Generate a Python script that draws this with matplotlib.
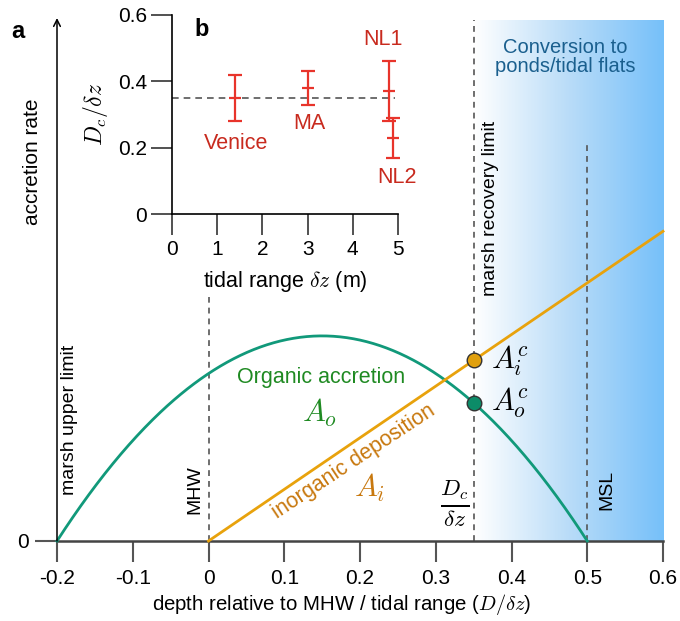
import numpy as np
import matplotlib
matplotlib.use("Agg")
import matplotlib.pyplot as plt
from matplotlib.colors import LinearSegmentedColormap

plt.rcParams['font.family'] = ['Liberation Sans', 'DejaVu Sans']
plt.rcParams['mathtext.fontset'] = 'cm'

# ---------------- data ----------------
# Panel a (schematic model): organic accretion parabola & inorganic deposition line
organic_zeros = [-0.2, 0.5]          # depth where organic accretion vanishes
organic_peak = 1.0                   # peak organic accretion (arbitrary units)
inorganic_start = [0.0, 0.0]         # (depth, rate)
inorganic_end = [0.6, 1.51]          # (depth, rate)
critical_depth = 0.35                # D_c / delta z
msl_depth = 0.5
mhw_depth = 0.0
xticks_a = [-0.2, -0.1, 0, 0.1, 0.2, 0.3, 0.4, 0.5, 0.6]
xticklabels_a = ['-0.2', '-0.1', '0', '0.1', '0.2', '0.3', '0.4', '0.5', '0.6']

# Panel b: critical depth vs tidal range
sites = ['Venice', 'MA', 'NL1', 'NL2']
tidal_range = [1.4, 3.0, 4.8, 4.9]
dc_value = [0.35, 0.38, 0.37, 0.23]
dc_low = [0.28, 0.33, 0.28, 0.17]
dc_high = [0.42, 0.43, 0.46, 0.29]
dc_mean = 0.35

# ---------------- figure ----------------
W, H = 680, 621
fig = plt.figure(figsize=(W / 100, H / 100), dpi=100)

def fx(px):
    return px / W

def fy(py):
    return 1 - py / H

ax = fig.add_axes([fx(57), fy(541), fx(663) - fx(57), fy(18) - fy(541)])
ymax = 2.55
ax.set_xlim(-0.2, 0.6)
ax.set_ylim(0, ymax)

# gradient region
cmap = LinearSegmentedColormap.from_list('bl', ['#ffffff', '#b9dcf8', '#76c0fa'])
grad = np.linspace(0, 1, 256).reshape(1, -1)
ax.imshow(grad, extent=[critical_depth, 0.6, 0, 2.54], aspect='auto',
          cmap=cmap, zorder=0, interpolation='bilinear')

# curves
x = np.linspace(organic_zeros[0], organic_zeros[1], 400)
mid = 0.5 * (organic_zeros[0] + organic_zeros[1])
half = 0.5 * (organic_zeros[1] - organic_zeros[0])
Ao = organic_peak * (1 - ((x - mid) / half) ** 2)
green = '#11997a'
orange = '#e8a20c'
ax.plot(x, Ao, color=green, lw=2, zorder=3, clip_on=False)
ax.plot([inorganic_start[0], inorganic_end[0]], [inorganic_start[1], inorganic_end[1]],
        color=orange, lw=2, zorder=3, clip_on=False)

slope = (inorganic_end[1] - inorganic_start[1]) / (inorganic_end[0] - inorganic_start[0])
Ai_c = slope * critical_depth
Ao_c = organic_peak * (1 - ((critical_depth - mid) / half) ** 2)
ax.scatter([critical_depth], [Ai_c], s=110, color='#e0a00e', edgecolor='#333333', lw=1, zorder=5)
ax.scatter([critical_depth], [Ao_c], s=110, color='#0c8c68', edgecolor='#333333', lw=1, zorder=5)

# dashed vertical lines
dash_kw = dict(color='#555555', lw=1.2, ls=(0, (3.5, 3)), zorder=2)
ax.plot([mhw_depth, mhw_depth], [0, 1.19], **dash_kw)
ax.plot([critical_depth, critical_depth], [0, 2.54], **dash_kw)
ax.plot([msl_depth, msl_depth], [0, 1.93], **dash_kw)

# axes styling
for s in ['top', 'right', 'left']:
    ax.spines[s].set_visible(False)
ax.spines['bottom'].set_color('#444444')
ax.spines['bottom'].set_linewidth(1.8)
ax.set_xticks(xticks_a)
ax.set_xticklabels(xticklabels_a)
ax.set_yticks([0])
ax.set_yticklabels(['0'])
ax.tick_params(axis='x', direction='out', length=15, width=1.5, color='#555555',
               labelsize=15, pad=5)
ax.tick_params(axis='y', direction='out', length=16, width=1.5, color='#555555',
               labelsize=15, pad=4)
ax.annotate('', xy=(-0.2, ymax), xytext=(-0.2, 0), xycoords='data',
            arrowprops=dict(arrowstyle='->', lw=1.1, color='black',
                            shrinkA=0, shrinkB=0, mutation_scale=12),
            annotation_clip=False, zorder=6)
ax.set_xlabel(r'depth relative to MHW / tidal range ($D/\delta z$)', fontsize=14.7, labelpad=7)
ax.xaxis.set_label_coords((342 - 57) / 606, -0.098)
fig.text(fx(32), fy(162), 'accretion rate', rotation=90, ha='center', va='center', fontsize=15)

# annotations panel a
ax.text(-0.183, 0.59, 'marsh upper limit', rotation=90, ha='center', va='center', fontsize=14)
ax.text(-0.018, 0.25, 'MHW', rotation=90, ha='center', va='center', fontsize=14)
ax.text(0.372, 1.62, 'marsh recovery limit', rotation=90, ha='center', va='center', fontsize=14)
ax.text(0.526, 0.25, 'MSL', rotation=90, ha='center', va='center', fontsize=14)
ax.text(0.1485, 0.795, 'Organic accretion', color='#1f8a22', ha='center', va='center', fontsize=15.5)
ax.text(0.147, 0.624, r'$A_o$', color='#1f8a22', ha='center', va='center', fontsize=22)
ax.text(0.192, 0.385, 'inorganic deposition', color='#c8780e', ha='center', va='center',
        fontsize=15.5, rotation=33.5)
ax.text(0.213, 0.26, r'$A_i$', color='#c8780e', ha='center', va='center', fontsize=22)
ax.text(0.325, 0.185, r'$\frac{D_c}{\delta z}$', ha='center', va='center', fontsize=24)
ax.text(0.373, Ai_c, r'$A_i^c$', ha='left', va='center', fontsize=22)
ax.text(0.373, Ao_c, r'$A_o^c$', ha='left', va='center', fontsize=22)
ax.text(0.471, 2.36, 'Conversion to\nponds/tidal flats', color='#1a5f8e', ha='center',
        va='center', fontsize=14.5, linespacing=1.05)

fig.text(fx(18), fy(32), 'a', fontweight='bold', fontsize=17, ha='center', va='center')
fig.text(fx(202), fy(30), 'b', fontweight='bold', fontsize=17, ha='center', va='center')

# ---------------- inset b ----------------
axb = fig.add_axes([fx(172), fy(214), fx(398) - fx(172), fy(15) - fy(214)])
axb.set_xlim(0, 5)
axb.set_ylim(0, 0.6)
axb.patch.set_alpha(0)
for s in ['top', 'right']:
    axb.spines[s].set_visible(False)
for s in ['left', 'bottom']:
    axb.spines[s].set_linewidth(1.2)
axb.set_xticks([0, 1, 2, 3, 4, 5])
axb.set_yticks([0, 0.2, 0.4, 0.6])
axb.set_yticklabels(['0', '0.2', '0.4', '0.6'])
axb.tick_params(direction='out', length=15, width=1.2, labelsize=15, color='#333333')
axb.tick_params(axis='x', pad=4)
axb.tick_params(axis='y', pad=3)
axb.set_xlabel(r'tidal range $\delta z$ (m)', fontsize=15.5, labelpad=7)
axb.set_ylabel(r'$D_c/\delta z$', fontsize=17, labelpad=6)

axb.plot([0, 4.93], [dc_mean, dc_mean], color='#555555', lw=1.2, ls=(0, (4, 3)), zorder=1)
red = '#e8342b'
tr = np.array(tidal_range)
val = np.array(dc_value)
yerr = np.vstack([val - np.array(dc_low), np.array(dc_high) - val])
axb.errorbar(tr, val, yerr=yerr, fmt='_', color=red, ecolor=red, elinewidth=1.6,
             capsize=5, capthick=1.6, markersize=9, markeredgewidth=1.6, zorder=3,
             clip_on=False)
lab_pos = {'Venice': (1.42, 0.214), 'MA': (3.05, 0.274), 'NL1': (4.67, 0.525), 'NL2': (4.98, 0.11)}
for s in sites:
    px, py = lab_pos[s]
    axb.text(px, py, s, color='#c82a1e', ha='center', va='center', fontsize=15.5)

fig.savefig('out.png', dpi=100)
